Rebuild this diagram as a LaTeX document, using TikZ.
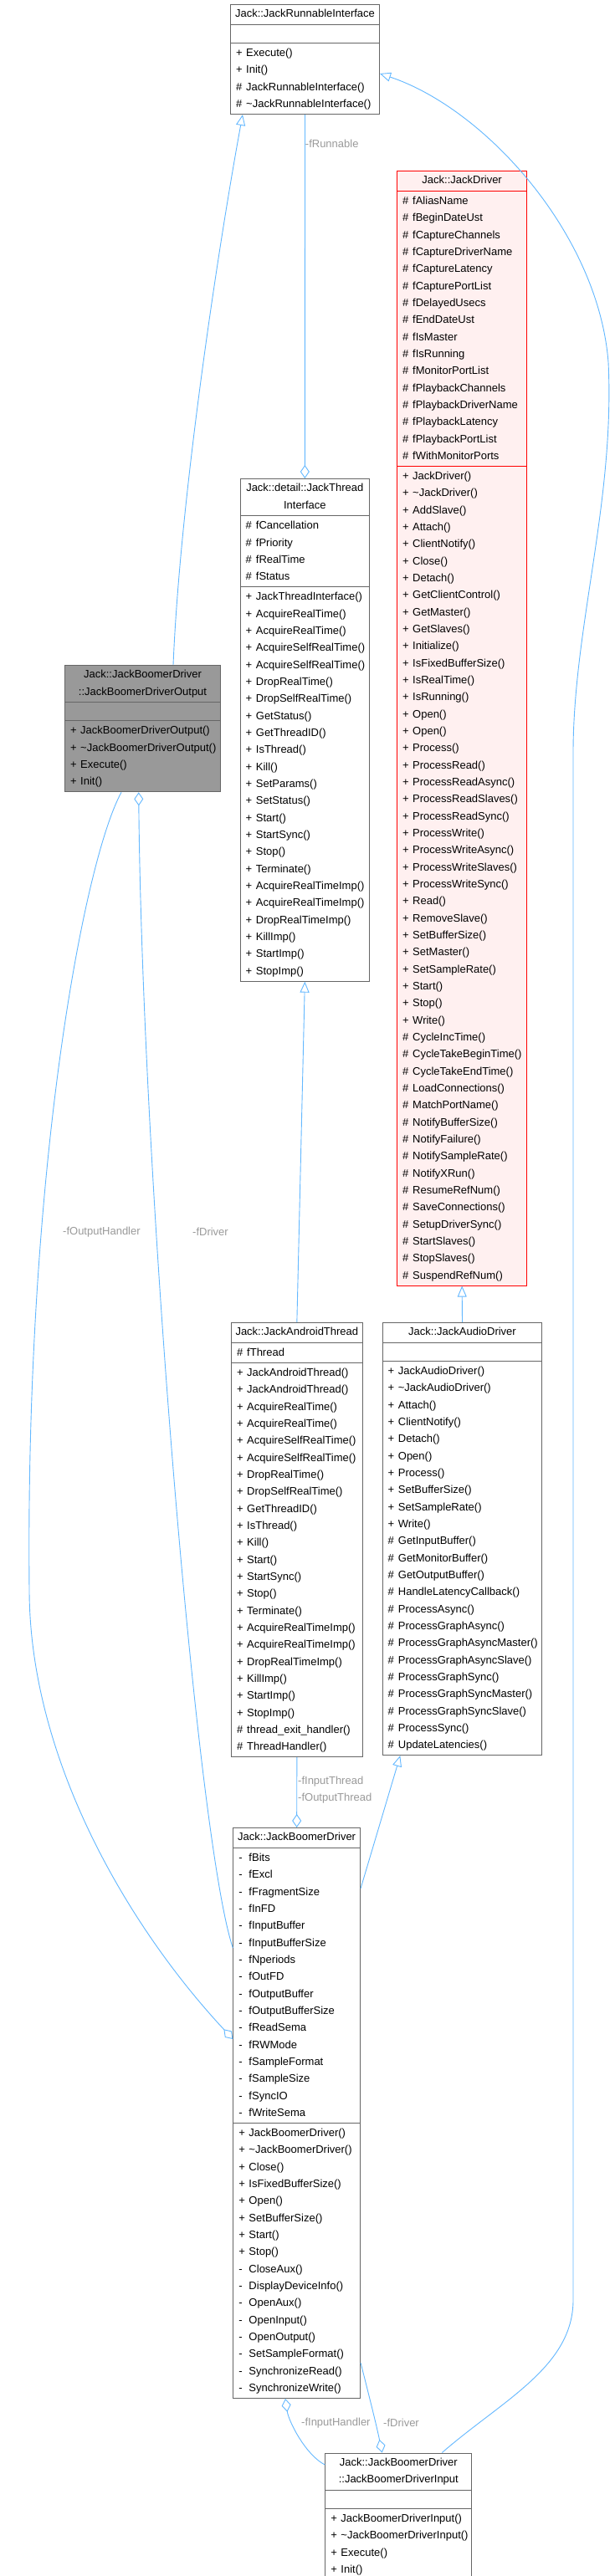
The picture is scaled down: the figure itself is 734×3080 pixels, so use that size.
\documentclass[tikz,border=0pt]{standalone}
\usepackage{fontspec}
\setmainfont{Liberation Sans}
\usetikzlibrary{arrows.meta,shapes.multipart}

\definecolor{edgeblue}{HTML}{63B8FF}
\definecolor{lblgray}{HTML}{9A9A9A}
\definecolor{boxgray}{HTML}{666666}
\definecolor{hlfill}{HTML}{999999}
\definecolor{drvfill}{HTML}{FFF0F0}

% one member line: visibility mark, then the name
\newcommand{\mb}[2]{\makebox[12.2pt][l]{#1}#2\strut}
\newcommand{\pub}[1]{\mb{+}{#1}}
\newcommand{\pro}[1]{\mb{\#}{#1}}
\newcommand{\pri}[1]{\mb{-}{#1}}
% class title lines, centred
\newcommand{\ttl}[1]{\fontsize{13}{15}\selectfont #1}
\newcommand{\tline}[1]{\makebox[\hsize][c]{#1\rule[-6.8pt]{0pt}{20.3pt}}}
\newcommand{\noattr}{\rule{0pt}{18.3pt}}
\newcommand{\clsfont}{\fontsize{13}{20.33}\selectfont\lineskiplimit=-50pt\relax}

\begin{document}
\begin{tikzpicture}[
    x=1pt, y=-1pt,
    cls/.style={rectangle split, rectangle split parts=3, draw=boxgray, line width=1pt,
      fill=white, inner xsep=6.5pt, inner ysep=1.35pt, anchor=north west, align=left, font=\clsfont},
    inh/.style={draw=edgeblue, line width=0.9pt, -{Triangle[open, length=13pt, width=11pt]}},
    agg/.style={draw=edgeblue, line width=0.9pt, -{Diamond[open, length=16pt, width=11pt]}},
    lbl/.style={text=lblgray, font=\clsfont, inner sep=0pt, align=left}
  ]
  \fill[white] (0,0) rectangle (734,3080);
  \useasboundingbox (0,0) rectangle (734,3080);

  \node[cls, text width=165pt] (runif) at (275,5) {\ttl{\tline{Jack::JackRunnableInterface}}
    \nodepart{two}\noattr
    \nodepart{three}\pub{Execute()}\\\pub{Init()}\\\pro{JackRunnableInterface()}\\\pro{\textasciitilde JackRunnableInterface()}};

  \node[cls, text width=142.3pt, draw=red, fill=drvfill] (drv) at (474,204) {\ttl{\tline{Jack::JackDriver}}
    \nodepart{two}\pro{fAliasName}\\\pro{fBeginDateUst}\\\pro{fCaptureChannels}\\\pro{fCaptureDriverName}\\
    \pro{fCaptureLatency}\\\pro{fCapturePortList}\\\pro{fDelayedUsecs}\\\pro{fEndDateUst}\\
    \pro{fIsMaster}\\\pro{fIsRunning}\\\pro{fMonitorPortList}\\\pro{fPlaybackChannels}\\
    \pro{fPlaybackDriverName}\\\pro{fPlaybackLatency}\\\pro{fPlaybackPortList}\\\pro{fWithMonitorPorts}
    \nodepart{three}\pub{JackDriver()}\\\pub{\textasciitilde JackDriver()}\\\pub{AddSlave()}\\\pub{Attach()}\\
    \pub{ClientNotify()}\\\pub{Close()}\\\pub{Detach()}\\\pub{GetClientControl()}\\\pub{GetMaster()}\\
    \pub{GetSlaves()}\\\pub{Initialize()}\\\pub{IsFixedBufferSize()}\\\pub{IsRealTime()}\\\pub{IsRunning()}\\
    \pub{Open()}\\\pub{Open()}\\\pub{Process()}\\\pub{ProcessRead()}\\\pub{ProcessReadAsync()}\\
    \pub{ProcessReadSlaves()}\\\pub{ProcessReadSync()}\\\pub{ProcessWrite()}\\\pub{ProcessWriteAsync()}\\
    \pub{ProcessWriteSlaves()}\\\pub{ProcessWriteSync()}\\\pub{Read()}\\\pub{RemoveSlave()}\\
    \pub{SetBufferSize()}\\\pub{SetMaster()}\\\pub{SetSampleRate()}\\\pub{Start()}\\\pub{Stop()}\\\pub{Write()}\\
    \pro{CycleIncTime()}\\\pro{CycleTakeBeginTime()}\\\pro{CycleTakeEndTime()}\\\pro{LoadConnections()}\\
    \pro{MatchPortName()}\\\pro{NotifyBufferSize()}\\\pro{NotifyFailure()}\\\pro{NotifySampleRate()}\\
    \pro{NotifyXRun()}\\\pro{ResumeRefNum()}\\\pro{SaveConnections()}\\\pro{SetupDriverSync()}\\
    \pro{StartSlaves()}\\\pro{StopSlaves()}\\\pro{SuspendRefNum()}};

  \node[cls, text width=141.3pt] (thrif) at (286.7,572) {\ttl{\tline{Jack::detail::JackThread}\\\tline{Interface}}
    \nodepart{two}\pro{fCancellation}\\\pro{fPriority}\\\pro{fRealTime}\\\pro{fStatus}
    \nodepart{three}\pub{JackThreadInterface()}\\\pub{AcquireRealTime()}\\\pub{AcquireRealTime()}\\
    \pub{AcquireSelfRealTime()}\\\pub{AcquireSelfRealTime()}\\\pub{DropRealTime()}\\\pub{DropSelfRealTime()}\\
    \pub{GetStatus()}\\\pub{GetThreadID()}\\\pub{IsThread()}\\\pub{Kill()}\\\pub{SetParams()}\\
    \pub{SetStatus()}\\\pub{Start()}\\\pub{StartSync()}\\\pub{Stop()}\\\pub{Terminate()}\\
    \pub{AcquireRealTimeImp()}\\\pub{AcquireRealTimeImp()}\\\pub{DropRealTimeImp()}\\\pub{KillImp()}\\
    \pub{StartImp()}\\\pub{StopImp()}};

  \node[cls, text width=173pt, fill=hlfill] (bdout) at (77,795) {\ttl{\tline{Jack::JackBoomerDriver}\\\tline{::JackBoomerDriverOutput}}
    \nodepart{two}\noattr
    \nodepart{three}\pub{JackBoomerDriverOutput()}\\\pub{\textasciitilde JackBoomerDriverOutput()}\\\pub{Execute()}\\\pub{Init()}};

  \node[cls, text width=143.7pt] (andthr) at (276,1580.8) {\ttl{\tline{Jack::JackAndroidThread}}
    \nodepart{two}\pro{fThread}
    \nodepart{three}\pub{JackAndroidThread()}\\\pub{JackAndroidThread()}\\\pub{AcquireRealTime()}\\
    \pub{AcquireRealTime()}\\\pub{AcquireSelfRealTime()}\\\pub{AcquireSelfRealTime()}\\\pub{DropRealTime()}\\
    \pub{DropSelfRealTime()}\\\pub{GetThreadID()}\\\pub{IsThread()}\\\pub{Kill()}\\\pub{Start()}\\
    \pub{StartSync()}\\\pub{Stop()}\\\pub{Terminate()}\\\pub{AcquireRealTimeImp()}\\\pub{AcquireRealTimeImp()}\\
    \pub{DropRealTimeImp()}\\\pub{KillImp()}\\\pub{StartImp()}\\\pub{StopImp()}\\
    \pro{thread\_exit\_handler()}\\\pro{ThreadHandler()}};

  \node[cls, text width=177.6pt] (auddrv) at (456.7,1580.8) {\ttl{\tline{Jack::JackAudioDriver}}
    \nodepart{two}\noattr
    \nodepart{three}\pub{JackAudioDriver()}\\\pub{\textasciitilde JackAudioDriver()}\\\pub{Attach()}\\
    \pub{ClientNotify()}\\\pub{Detach()}\\\pub{Open()}\\\pub{Process()}\\\pub{SetBufferSize()}\\
    \pub{SetSampleRate()}\\\pub{Write()}\\\pro{GetInputBuffer()}\\\pro{GetMonitorBuffer()}\\
    \pro{GetOutputBuffer()}\\\pro{HandleLatencyCallback()}\\\pro{ProcessAsync()}\\\pro{ProcessGraphAsync()}\\
    \pro{ProcessGraphAsyncMaster()}\\\pro{ProcessGraphAsyncSlave()}\\\pro{ProcessGraphSync()}\\
    \pro{ProcessGraphSyncMaster()}\\\pro{ProcessGraphSyncSlave()}\\\pro{ProcessSync()}\\\pro{UpdateLatencies()}};

  \node[cls, text width=138.7pt] (boomer) at (278.3,2185) {\ttl{\tline{Jack::JackBoomerDriver}}
    \nodepart{two}\pri{fBits}\\\pri{fExcl}\\\pri{fFragmentSize}\\\pri{fInFD}\\\pri{fInputBuffer}\\
    \pri{fInputBufferSize}\\\pri{fNperiods}\\\pri{fOutFD}\\\pri{fOutputBuffer}\\\pri{fOutputBufferSize}\\
    \pri{fReadSema}\\\pri{fRWMode}\\\pri{fSampleFormat}\\\pri{fSampleSize}\\\pri{fSyncIO}\\\pri{fWriteSema}
    \nodepart{three}\pub{JackBoomerDriver()}\\\pub{\textasciitilde JackBoomerDriver()}\\\pub{Close()}\\
    \pub{IsFixedBufferSize()}\\\pub{Open()}\\\pub{SetBufferSize()}\\\pub{Start()}\\\pub{Stop()}\\
    \pri{CloseAux()}\\\pri{DisplayDeviceInfo()}\\\pri{OpenAux()}\\\pri{OpenInput()}\\\pri{OpenOutput()}\\
    \pri{SetSampleFormat()}\\\pri{SynchronizeRead()}\\\pri{SynchronizeWrite()}};

  \node[cls, text width=162pt] (bdin) at (388.3,2932.5) {\ttl{\tline{Jack::JackBoomerDriver}\\\tline{::JackBoomerDriverInput}}
    \nodepart{two}\noattr
    \nodepart{three}\pub{JackBoomerDriverInput()}\\\pub{\textasciitilde JackBoomerDriverInput()}\\\pub{Execute()}\\\pub{Init()}};

  % inheritance
  \draw[inh] ([xshift=130pt]bdout.north west) .. controls (215,600) and (260,300) .. ([xshift=15pt]runif.south west);
  \draw[inh] (auddrv.north) -- (drv.south);
  \draw[inh] (andthr.north) -- (thrif.south);
  \draw[inh] ([yshift=-73pt]boomer.north east) -- ([xshift=21.6pt]auddrv.south west);
  \draw[inh] ([xshift=140pt]bdin.north west) .. controls (600,2870) and (685,2830) .. (685,2750)
    -- (685,900) .. controls (685,750) and (735,600) .. (727,433)
    .. controls (715,280) and (580,130) .. ([yshift=-83pt]runif.north east);

  % members
  \draw[agg] (runif.south) -- (thrif.north) node[lbl, anchor=west, pos=0.08] {-fRunnable};
  \draw[agg] (andthr.south) -- (boomer.north);
  \node[lbl, anchor=west] (thrlbl) at (356,2140) {-fInputThread\\-fOutputThread};
  \draw[agg] ([xshift=68pt]bdout.south west) .. controls (100,1030) and (30,1400) .. (35,1900)
    .. controls (35,2100) and (150,2300) .. ([yshift=-253pt]boomer.north west);
  \draw[agg] ([yshift=-144pt]boomer.north west) .. controls (235,2200) and (170,1400) .. ([xshift=88.7pt]bdout.south west);
  \node[lbl, anchor=west] (outlbl) at (75,1473) {-fOutputHandler};
  \node[lbl, anchor=west] (drvlbl) at (230,1473) {-fDriver};
  \draw[agg] ([yshift=-14.5pt]bdin.north west) .. controls (365,2935) and (345,2895) .. ([xshift=62.7pt]boomer.south west);
  \draw[agg] ([yshift=43pt]boomer.south east) .. controls (440,2860) and (450,2900) .. ([xshift=68.4pt]bdin.north west);
  \node[lbl, anchor=west] (inlbl) at (360,2897) {-fInputHandler};
  \node[lbl, anchor=west] (drvlbl2) at (458,2897) {-fDriver};
\end{tikzpicture}
\end{document}
